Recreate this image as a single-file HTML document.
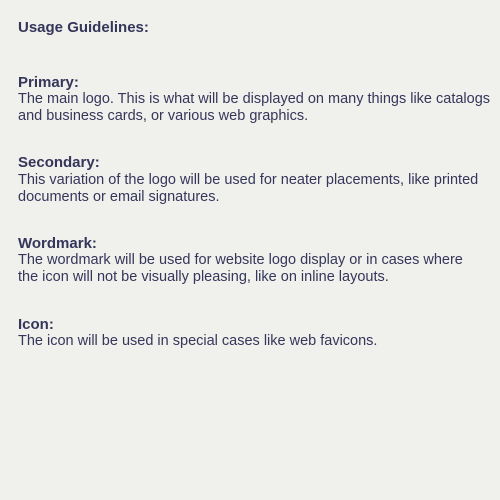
<!DOCTYPE html>
<html><head><style>
body{margin:0;width:500px;height:500px;background:#f0f0ec;font-family:"Liberation Sans",sans-serif;color:#35365a;position:relative;overflow:hidden}
div{position:absolute;left:18px;white-space:nowrap;font-size:14.5px;line-height:17px}
.b{font-weight:bold;font-size:15px}
</style></head><body>
<div class="b" style="top:19px">Usage Guidelines:</div>
<div class="b" style="top:74px">Primary:</div>
<div style="top:91px">The main logo. This is what will be displayed on many things like catalogs</div>
<div style="top:108px">and business cards, or various web graphics.</div>
<div class="b" style="top:154px">Secondary:</div>
<div style="top:172px">This variation of the logo will be used for neater placements, like printed</div>
<div style="top:189px">documents or email signatures.</div>
<div class="b" style="top:235px">Wordmark:</div>
<div style="top:252px">The wordmark will be used for website logo display or in cases where</div>
<div style="top:269px">the icon will not be visually pleasing, like on inline layouts.</div>
<div class="b" style="top:316px">Icon:</div>
<div style="top:333px">The icon will be used in special cases like web favicons.</div>
</body></html>
